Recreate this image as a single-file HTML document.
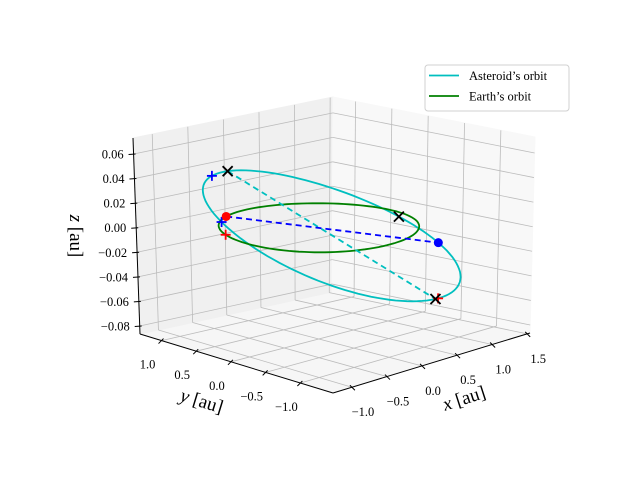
<!DOCTYPE html>
<html><head><meta charset="utf-8"><style>
html,body{margin:0;padding:0;background:#fff;}
svg{display:block;font-family:"Liberation Serif","DejaVu Serif",serif;}
</style></head><body>
<svg id="chart" width="640" height="480" viewBox="0 0 640 480" xmlns="http://www.w3.org/2000/svg">
<g id="panes"></g>
<g id="grid"></g>
<g id="axes"></g>
<g id="series" transform="translate(0,-5)"></g>
<text x="466" y="404" font-size="19" text-anchor="middle" transform="rotate(-18 466 404)"><tspan font-style="italic">x</tspan> [au]</text>
<text x="200" y="407" font-size="19" text-anchor="middle" transform="rotate(17 200 407)"><tspan font-style="italic">y</tspan> [au]</text>
<text x="70" y="236" font-size="19" text-anchor="middle" transform="rotate(90 70 236)"><tspan font-style="italic">z</tspan> [au]</text>
<g>
<rect x="425" y="65" width="144" height="46" rx="3" fill="#fff" fill-opacity="0.8" stroke="#d0d0d0" stroke-width="1"/>
<line x1="429" y1="75.5" x2="459" y2="75.5" stroke="#00bfbf" stroke-width="1.8"/>
<text x="469" y="80" font-size="12.5">Asteroid’s orbit</text>
<line x1="429" y1="96" x2="459" y2="96" stroke="#008000" stroke-width="1.8"/>
<text x="469" y="100.5" font-size="12.5">Earth’s orbit</text>
</g>
</svg>
<script>
// ---- data ----
const xTicks=[-1.0,-0.5,0.0,0.5,1.0,1.5];
const yTicks=[-1.0,-0.5,0.0,0.5,1.0];
const zTicks=[-0.08,-0.06,-0.04,-0.02,0.00,0.02,0.04,0.06];
const xTickLabels=["\u22121.0","\u22120.5","0.0","0.5","1.0","1.5"];
const yTickLabels=["\u22121.0","\u22120.5","0.0","0.5","1.0"];
const zTickLabels=["\u22120.08","\u22120.06","\u22120.04","\u22120.02","0.00","0.02","0.04","0.06"];
const xLim=[-1.27,1.54];
const yLim=[-1.47,1.31];
const zLim=[-0.0865,0.073];
// orbital elements: [asteroid, earth]
const orbitNames=["asteroid","earth"];
const semiMajor=[1.29,1.0];
const eccentricity=[0.13,0.0];
const inclinationDeg=[1.66,0.0];
const nodeDeg=[22.8,0.0];
const argPeriDeg=[75.2,0.0];
// markers (eccentric anomaly in degrees)
const apsisCrossAnomaly=[0,180];
const extraCrossAnomaly=[275];
const bluePlusAnomaly=[14.4,67.2];
const redPlusEarthAnomaly=[156];
const redPlusAsteroidAnomaly=[182];
const earthNowAnomaly=[112];
const asteroidNowAnomaly=[250.6];

// ---- projection (trilinear over box corners) ----
const CB={F:[333,393],R:[530,333],L:[140,334],B:[332,292]};
const CT={F:[336,190],R:[535,137],L:[133,138],B:[333,97]};
function proj(x,y,z){
  const u=(x-xLim[0])/(xLim[1]-xLim[0]);
  const v=(y-yLim[0])/(yLim[1]-yLim[0]);
  const w=(z-zLim[0])/(zLim[1]-zLim[0]);
  function bil(C){
    const a=(1-u)*(1-v),b=u*(1-v),c=(1-u)*v,d=u*v;
    return [C.F[0]*a+C.R[0]*b+C.L[0]*c+C.B[0]*d, C.F[1]*a+C.R[1]*b+C.L[1]*c+C.B[1]*d];
  }
  const p0=bil(CB),p1=bil(CT);
  return [p0[0]+(p1[0]-p0[0])*w, p0[1]+(p1[1]-p0[1])*w];
}
const NS="http://www.w3.org/2000/svg";
function mk(tag,attrs,parent){const e=document.createElementNS(NS,tag);for(const k in attrs)e.setAttribute(k,attrs[k]);parent.appendChild(e);return e;}
function poly(pts){return pts.map(p=>p[0].toFixed(1)+","+p[1].toFixed(1)).join(" ");}

const panes=document.getElementById('panes'),grid=document.getElementById('grid'),axes=document.getElementById('axes'),series=document.getElementById('series');
const X0=xLim[0],X1=xLim[1],Y0=yLim[0],Y1=yLim[1],Z0=zLim[0],Z1=zLim[1];
let el;
el=mk('polygon',{points:poly([proj(X0,Y0,Z0),proj(X1,Y0,Z0),proj(X1,Y1,Z0),proj(X0,Y1,Z0)]),fill:'#f6f6f6',stroke:'#f6f6f6'},panes);


el=mk('polygon',{points:poly([proj(X0,Y1,Z0),proj(X1,Y1,Z0),proj(X1,Y1,Z1),proj(X0,Y1,Z1)]),fill:'#f0f0f0',stroke:'#f0f0f0'},panes);


el=mk('polygon',{points:poly([proj(X1,Y0,Z0),proj(X1,Y1,Z0),proj(X1,Y1,Z1),proj(X1,Y0,Z1)]),fill:'#f8f8f8',stroke:'#f8f8f8'},panes);



function gl(a,b){const e=mk('line',{x1:a[0],y1:a[1],x2:b[0],y2:b[1],stroke:'#bcbcbc','stroke-width':0.8},grid);return e;}
xTicks.forEach(x=>{
  el=gl(proj(x,Y1,Z0),proj(x,Y1,Z1));
  
  
  el=gl(proj(x,Y0,Z0),proj(x,Y1,Z0));
  
  
});
yTicks.forEach(y=>{
  el=gl(proj(X1,y,Z0),proj(X1,y,Z1));
  
  
  el=gl(proj(X0,y,Z0),proj(X1,y,Z0));
  
  
});
zTicks.forEach(z=>{
  el=gl(proj(X0,Y1,z),proj(X1,Y1,z));
  
  
  el=gl(proj(X1,Y1,z),proj(X1,Y0,z));
  
  
});

function al(a,b){return mk('line',{x1:a[0],y1:a[1],x2:b[0],y2:b[1],stroke:'#000','stroke-width':1},axes);}
el=al(proj(X0,Y0,Z0),proj(X1,Y0,Z0));


el=al(proj(X0,Y0,Z0),proj(X0,Y1,Z0));


el=al(proj(X0,Y1,Z0),proj(X0,Y1,Z1));



function txt(s,x,y,anchor,parent){const e=mk('text',{x:x,y:y,'font-size':12.5,'text-anchor':anchor},parent);e.textContent=s;return e;}
xTicks.forEach((x,i)=>{
  const p=proj(x,Y0,Z0);
  el=mk('line',{x1:p[0]-2,y1:p[1]-2,x2:p[0]+3,y2:p[1]+3,stroke:'#000','stroke-width':1},axes);
  
  
  el=txt(xTickLabels[i],p[0]+11,p[1]+29,'middle',axes);
  
  
});
yTicks.forEach((y,i)=>{
  const p=proj(X0,y,Z0);
  el=mk('line',{x1:p[0]+2,y1:p[1]-2,x2:p[0]-3,y2:p[1]+3,stroke:'#000','stroke-width':1},axes);
  
  
  el=txt(yTickLabels[i],p[0]-14,p[1]+28,'middle',axes);
  
  
});
zTicks.forEach((z,i)=>{
  const p=proj(X0,Y1,z);
  el=mk('line',{x1:p[0]+2,y1:p[1],x2:p[0]-5,y2:p[1]+0.5,stroke:'#000','stroke-width':1},axes);
  
  
  el=txt(zTickLabels[i],p[0]-10,p[1]+4.5,'end',axes);
  
  
});

function orbitPos(k,Edeg){
  const d=Math.PI/180,a=semiMajor[k],e=eccentricity[k],i=inclinationDeg[k]*d,O=nodeDeg[k]*d,w=argPeriDeg[k]*d,E=Edeg*d;
  const P=[Math.cos(O)*Math.cos(w)-Math.sin(O)*Math.sin(w)*Math.cos(i), Math.sin(O)*Math.cos(w)+Math.cos(O)*Math.sin(w)*Math.cos(i), Math.sin(w)*Math.sin(i)];
  const Q=[-Math.cos(O)*Math.sin(w)-Math.sin(O)*Math.cos(w)*Math.cos(i), -Math.sin(O)*Math.sin(w)+Math.cos(O)*Math.cos(w)*Math.cos(i), Math.cos(w)*Math.sin(i)];
  const c=a*(Math.cos(E)-e),s=a*Math.sqrt(1-e*e)*Math.sin(E);
  return [c*P[0]+s*Q[0],c*P[1]+s*Q[1],c*P[2]+s*Q[2]];
}
function sp(k,E){const r=orbitPos(k,E);return proj(r[0],r[1],r[2]);}
const colors=['#00bfbf','#008000'];
orbitNames.forEach((n,k)=>{
  const pts=[];for(let E=0;E<=360;E+=3)pts.push(sp(k,E));
  el=mk('polyline',{points:poly(pts),fill:'none',stroke:colors[k],'stroke-width':1.8},series);
  
  
});
{
  const a=sp(0,apsisCrossAnomaly[0]),b=sp(0,apsisCrossAnomaly[1]);
  el=mk('line',{x1:a[0],y1:a[1],x2:b[0],y2:b[1],stroke:'#00bfbf','stroke-width':1.8,'stroke-dasharray':'6,4'},series);
  
  
}
{
  const a=sp(1,earthNowAnomaly[0]),b=sp(0,asteroidNowAnomaly[0]);
  el=mk('line',{x1:a[0],y1:a[1],x2:b[0],y2:b[1],stroke:'#0000ff','stroke-width':1.8,'stroke-dasharray':'6,4'},series);
  
  
}
function plus(p,col,name){
  const g=mk('g',{},series);
  
  
  mk('line',{x1:p[0]-5,y1:p[1],x2:p[0]+5,y2:p[1],stroke:col,'stroke-width':1.8},g);
  mk('line',{x1:p[0],y1:p[1]-5,x2:p[0],y2:p[1]+5,stroke:col,'stroke-width':1.8},g);
}
function cross(p,name){
  const g=mk('g',{},series);
  
  
  mk('line',{x1:p[0]-5,y1:p[1]-5,x2:p[0]+5,y2:p[1]+5,stroke:'#000','stroke-width':1.8},g);
  mk('line',{x1:p[0]-5,y1:p[1]+5,x2:p[0]+5,y2:p[1]-5,stroke:'#000','stroke-width':1.8},g);
}
bluePlusAnomaly.forEach(E=>plus(sp(0,E),'#0000ff','asteroid-plus-marker'));
redPlusEarthAnomaly.forEach(E=>plus(sp(1,E),'#ff0000','earth-plus-marker'));
redPlusAsteroidAnomaly.forEach(E=>plus(sp(0,E),'#ff0000','asteroid-red-plus-marker'));
apsisCrossAnomaly.forEach(E=>cross(sp(0,E),'asteroid-apsis-cross-marker'));
extraCrossAnomaly.forEach(E=>cross(sp(0,E),'asteroid-cross-marker'));
{
  const p=sp(1,earthNowAnomaly[0]);
  el=mk('circle',{cx:p[0],cy:p[1],r:4.5,fill:'#ff0000'},series);
  
  
  const q=sp(0,asteroidNowAnomaly[0]);
  el=mk('circle',{cx:q[0],cy:q[1],r:4.5,fill:'#0000ff'},series);
  
  
}
</script>
</body></html>
